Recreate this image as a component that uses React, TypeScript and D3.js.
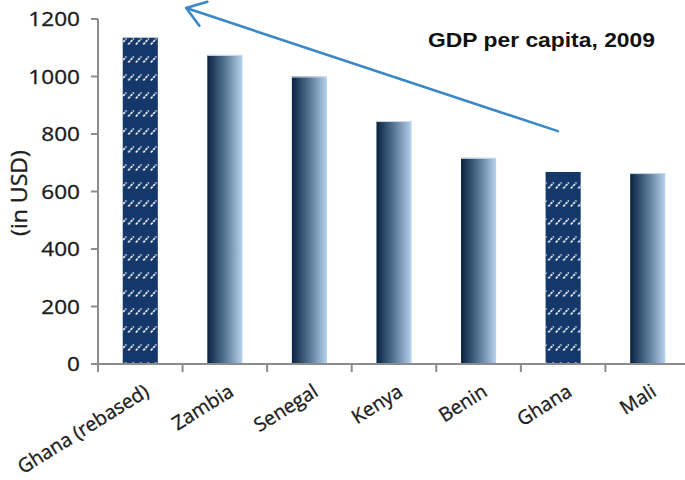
import React from "react";
import * as d3 from "d3";

const categories = ["Ghana (rebased)", "Zambia", "Senegal", "Kenya", "Benin", "Ghana", "Mali"];
const values = [1135, 1075, 1000, 845, 717, 668, 664];
const patterned = [true, false, false, false, false, true, false];
const yTicks = [0, 200, 400, 600, 800, 1000, 1200];
const title = "GDP per capita, 2009";
const yLabel = "(in USD)";
// arrow annotation in data space: [category, offset within band (fraction), value]
const arrowTail = { cat: "Ghana", frac: 0.35, value: 810 };
const arrowTip = { cat: "Zambia", frac: -0.6, value: 1238 };

const W = 685;
const H = 480;
const left = 98;
const right = 690;
const bottom = 364;
const top = 19;
const axisColor = "#8c8c8c";
const font = "'Open Sans', sans-serif";
const textColor = "#1c1c1c";

export default function App() {
  const x = d3
    .scaleBand<string>()
    .domain(categories)
    .range([left, right])
    .paddingInner(0.585)
    .paddingOuter(0.2925);
  const y = d3.scaleLinear().domain([0, 1200]).range([bottom, top]);
  const bw = x.bandwidth();
  const step = x.step();
  const boundaries = categories.map((c) => (x(c) as number) - (step - bw) / 2);
  boundaries.push(right);

  const ax = (p: { cat: string; frac: number; value: number }) => [
    (x(p.cat) as number) + p.frac * bw,
    y(p.value),
  ];
  const [tx, ty] = ax(arrowTail);
  const [hx, hy] = ax(arrowTip);
  const ang = Math.atan2(ty - hy, tx - hx);
  const wl = 22;
  const wa = (35 * Math.PI) / 180;
  const w1 = [hx + wl * Math.cos(ang - wa), hy + wl * Math.sin(ang - wa)];
  const w2 = [hx + wl * Math.cos(ang + wa), hy + wl * Math.sin(ang + wa)];

  return (
    <svg
      width={W}
      height={H}
      style={{ position: "absolute", left: 0, top: 0, background: "#fff" }}
    >
      <defs>
        <linearGradient id="barGrad" x1="0" x2="1" y1="0" y2="0">
          <stop offset="0%" stopColor="#0b2241" />
          <stop offset="45%" stopColor="#4d6d8c" />
          <stop offset="100%" stopColor="#b6d2ec" />
        </linearGradient>
        <pattern id="hatch" patternUnits="userSpaceOnUse" width={7.5} height={18} y={top + 17}>
          <line x1={0.8} y1={8.5} x2={6.3} y2={2.5} stroke="#ffffff" strokeWidth={1.6} strokeDasharray="2.5 1" />
        </pattern>
      </defs>

      {/* bars */}
      {categories.map((c, i) => {
        const bx = x(c) as number;
        const by = y(values[i]);
        const bh = bottom - by;
        return patterned[i] ? (
          <g key={c}>
            <rect x={bx} y={by} width={bw} height={bh} fill="#15386a" />
            <rect x={bx} y={by} width={bw} height={bh} fill="url(#hatch)" />
          </g>
        ) : (
          <g key={c}>
            <rect x={bx} y={by} width={bw} height={bh} fill="url(#barGrad)" />
            <line x1={bx} x2={bx + bw} y1={by + 0.5} y2={by + 0.5} stroke="#c9dcef" strokeWidth={1} />
          </g>
        );
      })}

      {/* y axis */}
      <line x1={left} x2={left} y1={top} y2={bottom} stroke={axisColor} strokeWidth={2} />
      {yTicks.map((t) => (
        <g key={t}>
          <line x1={left - 7} x2={left} y1={y(t)} y2={y(t)} stroke={axisColor} strokeWidth={2} />
          <text
            transform={`translate(80,${y(t) + 7}) scale(1.13,1)`}
            textAnchor="end"
            fontFamily={font}
            fontSize={20}
            fill={textColor}
            stroke={textColor}
            strokeWidth={0.35}
          >
            {t}
          </text>
        </g>
      ))}

      {/* x axis */}
      <line x1={left - 7} x2={right} y1={bottom} y2={bottom} stroke={axisColor} strokeWidth={2} />
      {boundaries.map((b, i) => (
        <line key={i} x1={b} x2={b} y1={bottom} y2={bottom + 8} stroke={axisColor} strokeWidth={2} />
      ))}
      {categories.map((c) => {
        const cx = (x(c) as number) + bw / 2;
        return (
          <text
            key={c}
            transform={`translate(${cx + 10},${bottom + 31}) rotate(-32)`}
            textAnchor="end"
            fontFamily={font}
            fontSize={19.5}
            fill={textColor}
            stroke={textColor}
            strokeWidth={0.35}
          >
            {c}
          </text>
        );
      })}

      {/* y label */}
      <text
        transform={`translate(27,193) rotate(-90) scale(1.1,1)`}
        textAnchor="middle"
        fontFamily={font}
        fontSize={21}
        fill={textColor}
        stroke={textColor}
        strokeWidth={0.35}
      >
        {yLabel}
      </text>

      {/* title */}
      <text
        x={428}
        y={47}
        fontFamily="'Liberation Sans', Arial, sans-serif"
        fontWeight="bold"
        fontSize={19.5}
        textLength={227}
        lengthAdjust="spacingAndGlyphs"
        fill="#111"
      >
        {title}
      </text>

      {/* arrow */}
      <g stroke="#3a88c9" strokeWidth={2.6} fill="none" strokeLinecap="round" strokeLinejoin="round">
        <line x1={tx} y1={ty} x2={hx} y2={hy} />
        <polyline points={`${w1[0]},${w1[1]} ${hx},${hy} ${w2[0]},${w2[1]}`} />
      </g>
    </svg>
  );
}
